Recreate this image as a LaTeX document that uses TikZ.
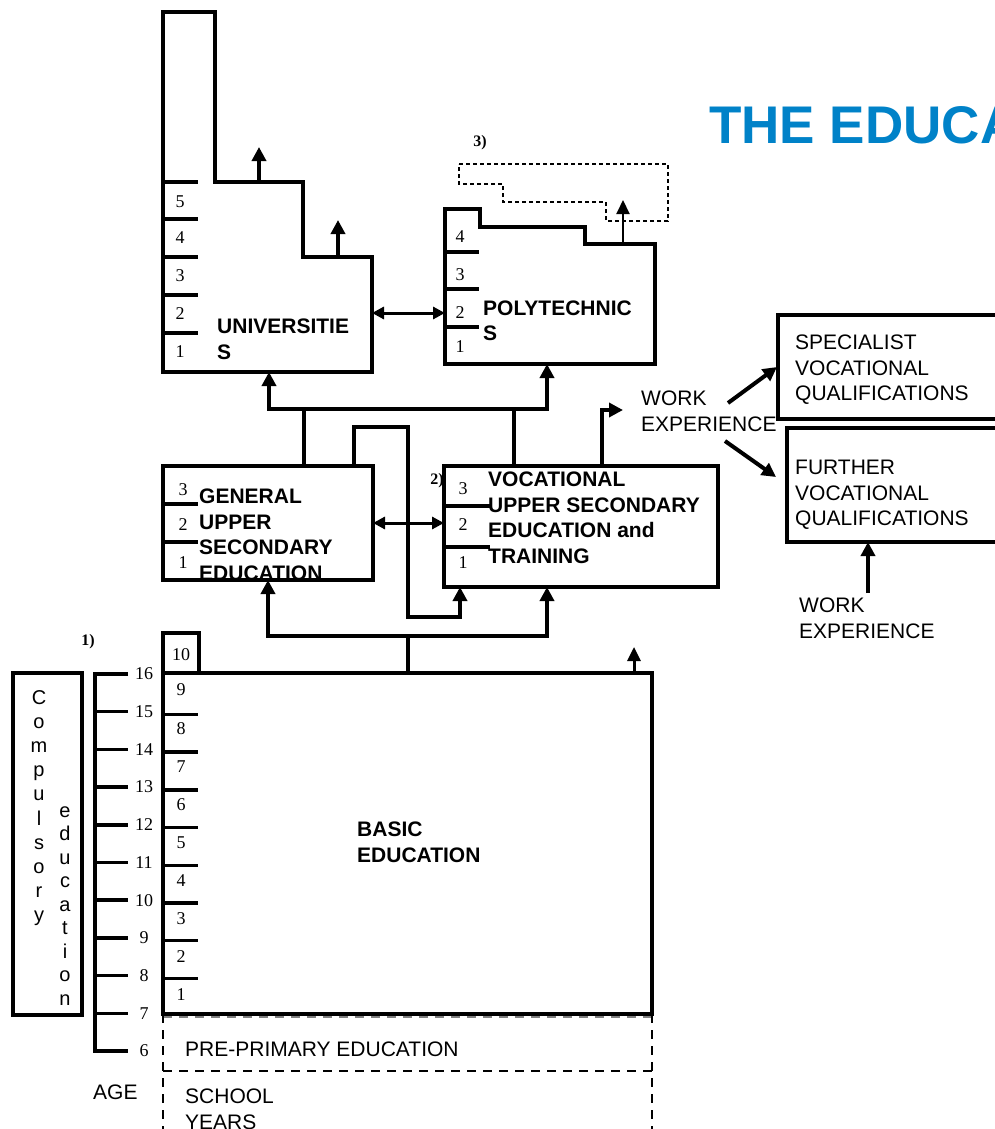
\documentclass[tikz,border=0pt]{standalone}
\usepackage{fontspec}
\setmainfont{Liberation Serif}
\setsansfont{Liberation Sans}
\usetikzlibrary{arrows.meta}

\definecolor{titleblue}{RGB}{0,130,200}

\tikzset{
  wall/.style={line width=4pt},
  box/.style={draw, line width=4pt, inner sep=0pt, outer sep=0pt, anchor=north west},
  rung/.style={line width=3.5pt},
  uparr/.style={line width=4pt, -{Triangle[length=14pt,width=14pt]}},
  dblarr/.style={line width=3pt, {Triangle[length=12pt,width=12pt]}-{Triangle[length=12pt,width=12pt]}},
  plain/.style={font=\sffamily\fontsize{21}{25.5}\selectfont, align=left, inner sep=0pt, anchor=north west},
  heavy/.style={plain, font=\sffamily\bfseries\fontsize{21}{25.5}\selectfont},
  num/.style={font=\fontsize{18}{18}\selectfont, inner sep=0pt},
  note/.style={font=\bfseries\fontsize{16}{16}\selectfont, inner sep=0pt},
  letter/.style={font=\sffamily\fontsize{20}{20}\selectfont, inner sep=0pt, anchor=base},
  dashline/.style={line width=2.5pt, dash pattern=on 9pt off 7pt},
}

\begin{document}
\begin{tikzpicture}[x=1pt, y=-1pt]
    \useasboundingbox (0,0) rectangle (995,1129);
    \clip (0,0) rectangle (995,1129);

    % title
    \node[anchor=base west, inner sep=0pt, text=titleblue, font=\sffamily\bfseries\fontsize{53}{60}\selectfont] (headline) at (709,143) {THE EDUCATION};

    % universities
    \draw[wall] (163,12) -- (215,12) -- (215,182) -- (303,182) -- (303,257) -- (372,257) -- (372,372) -- (163,372) -- cycle;
    \foreach \y in {182,219,257,295,333} \draw[rung] (163,\y) -- (198,\y);
    \foreach \n/\y in {5/202,4/238,3/276,2/314,1/352} \node[num] (uni\n) at (180,\y) {\n};
    \node[heavy] (unitext) at (217,319) {UNIVERSITIE\\S};
    \coordinate (uni-step1) at (259,182);
    \coordinate (uni-exit1) at (259,147);
    \coordinate (uni-step2) at (338,257);
    \coordinate (uni-exit2) at (338,220);
    \coordinate (uni-east) at (372,313);
    \coordinate (uni-south) at (269,372);

    % polytechnics
    \node[note] (note3) at (480,143) {3)};
    \draw[line width=1.3pt, dash pattern=on 4pt off 3pt] (459,164) -- (668,164) -- (668,221) -- (606,221) -- (606,202) -- (503,202) -- (503,184) -- (459,184) -- cycle;
    \draw[wall] (445,209) -- (480,209) -- (480,227) -- (585,227) -- (585,244) -- (655,244) -- (655,364) -- (445,364) -- cycle;
    \foreach \y in {252,289,327} \draw[rung] (445,\y) -- (479,\y);
    \foreach \n/\y in {4/237,3/275,2/313,1/347} \node[num] (poly\n) at (460,\y) {\n};
    \node[heavy] (polytext) at (483,300.5) {POLYTECHNIC\\S};
    \coordinate (poly-west) at (445,313);
    \coordinate (poly-south) at (547,364);
    \coordinate (poly-step) at (623,244);
    \coordinate (poly-exit) at (623,200);

    % upper secondary
    \node[heavy] (gusetext) at (199,489) {GENERAL\\UPPER\\SECONDARY\\EDUCATION};
    \node[box, minimum width=210pt, minimum height=114pt] (guse) at (163,466) {};
    \foreach \y in {504,542} \draw[rung] (163,\y) -- (198,\y);
    \foreach \n/\y in {3/490,2/525,1/563} \node[num] (guse\n) at (183,\y) {\n};
    \coordinate (guse-up) at (304,466);
    \coordinate (guse-loop) at (354,466);
    \coordinate (guse-east) at (373,523);
    \coordinate (guse-south) at (268,580);

    \node[note] (note2) at (437,481) {2)};
    \node[heavy] (vusetext) at (488,472) {VOCATIONAL\\UPPER SECONDARY\\EDUCATION and\\TRAINING};
    \node[box, minimum width=274pt, minimum height=121pt] (vuse) at (444,466) {};
    \foreach \y in {506,547} \draw[rung] (444,\y) -- (490,\y);
    \foreach \n/\y in {3/489,2/525,1/563} \node[num] (vuse\n) at (463,\y) {\n};
    \coordinate (vuse-up) at (514,466);
    \coordinate (vuse-out) at (602,466);
    \coordinate (vuse-west) at (444,523);
    \coordinate (vuse-south1) at (460,587);
    \coordinate (vuse-south2) at (547,587);

    % further studies
    \node[box, minimum width=240pt, minimum height=104pt] (spec) at (778,315) {};
    \node[plain] (spectext) at (795,335) {SPECIALIST\\VOCATIONAL\\QUALIFICATIONS};
    \node[box, minimum width=240pt, minimum height=114pt] (furt) at (787,428) {};
    \node[plain] (furttext) at (795,460) {FURTHER\\VOCATIONAL\\QUALIFICATIONS};
    \node[plain] (work1) at (641,391) {WORK\\EXPERIENCE};
    \node[plain] (work2) at (799,598) {WORK\\EXPERIENCE};
    \coordinate (work-in) at (623,410);
    \coordinate (work-a) at (728,403);
    \coordinate (spec-in) at (777,367);
    \coordinate (work-b) at (725,441);
    \coordinate (furt-in) at (776,477);
    \coordinate (work2-top) at (868,593);
    \coordinate (furt-south) at (868,542);

    % pre-primary and school years
    \draw[line width=1.5pt, dash pattern=on 9pt off 7pt, gray] (163,1017) -- (652,1017);
    \draw[dashline] (163,1014) -- (163,1129);
    \draw[dashline] (652,1014) -- (652,1129);
    \draw[dashline] (163,1071) -- (652,1071);
    \node[plain] (preprimary) at (185,1042) {PRE-PRIMARY EDUCATION};
    \node[plain] (school) at (185,1089) {SCHOOL\\YEARS};
    \node[plain] (age) at (93,1085) {AGE};

    % basic education
    \node[box, minimum width=489pt, minimum height=341pt] (basic) at (163,673) {};
    \node[box, line width=3.5pt, minimum width=36pt, minimum height=40pt] (ten) at (163,633) {};
    \node[num] (basic10) at (181,655) {10};
    \foreach \k in {0,...,7} \draw[rung] (163,{714.5+37.7*\k}) -- (198,{714.5+37.7*\k});
    \foreach \k in {1,...,9} \node[num] (basic\k) at (181,{690+38.1*(9-\k)}) {\k};
    \node[heavy] (basictext) at (357,822) {BASIC\\EDUCATION};
    \coordinate (basic-up) at (408,673);
    \coordinate (basic-step) at (634,673);
    \coordinate (basic-exit) at (634,647);

    % age scale
    \node[note] (note1) at (88,642) {1)};
    \draw[wall] (128,674) -| (95,1051) -- (128,1051);
    \foreach \k in {1,...,9} \draw[rung] (95,{674+37.7*\k}) -- (128,{674+37.7*\k});
    \foreach \k in {0,...,10} {
        \pgfmathtruncatemacro\agenum{16-\k}
        \node[num] (age\agenum) at (144,{674+37.7*\k}) {\agenum};
    }
    \node[box, line width=3.5pt, minimum width=69pt, minimum height=342pt] (comp) at (13,673) {};
    \foreach \c [count=\i from 0] in {C,o,m,p,u,l,s,o,r,y} \node[letter] (compa\i) at (39,{704+24.2*\i}) {\c};
    \foreach \c [count=\i from 0] in {e,d,u,c,a,t,i,o,n} \node[letter] (compb\i) at (65,{817+23.5*\i}) {\c};

    % connectors
    \coordinate (bus-top) at (408,409);
    \coordinate (bus-low) at (408,636);
    \coordinate (loop-top) at (408,427);
    \coordinate (loop-low) at (408,617);
    \draw[wall] (guse-up) |- (bus-top -| vuse-up) -- (vuse-up);
    \draw[uparr] (bus-top -| guse-up) -| (uni-south);
    \draw[uparr] (bus-top -| vuse-up) -| (poly-south);
    \draw[uparr] (guse-loop) |- (loop-top) -- (loop-low) -| (vuse-south1);
    \draw[wall] (basic-up) -- (bus-low);
    \draw[uparr] (bus-low) -| (guse-south);
    \draw[uparr] (bus-low) -| (vuse-south2);
    \draw[dblarr] (uni-east) -- (poly-west);
    \draw[dblarr] (guse-east) -- (vuse-west);
    \draw[uparr] (vuse-out) |- (work-in);
    \draw[uparr] (work-a) -- (spec-in);
    \draw[uparr] (work-b) -- (furt-in);
    \draw[uparr] (work2-top) -- (furt-south);
    \draw[uparr] (uni-step1) -- (uni-exit1);
    \draw[uparr] (uni-step2) -- (uni-exit2);
    \draw[line width=2pt, -{Triangle[length=14pt,width=13pt]}] (poly-step) -- (poly-exit);
    \draw[line width=3pt, -{Triangle[length=14pt,width=13pt]}] (basic-step) -- (basic-exit);
\end{tikzpicture}
\end{document}
